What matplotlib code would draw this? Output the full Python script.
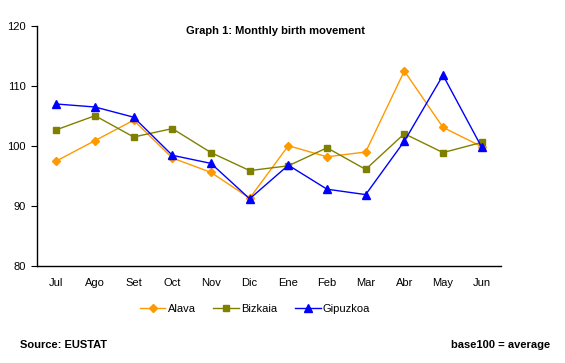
import matplotlib
matplotlib.use("Agg")
import matplotlib.pyplot as plt

months = ["Jul", "Ago", "Set", "Oct", "Nov", "Dic", "Ene", "Feb", "Mar", "Abr", "May", "Jun"]
alava = [97.5, 100.9, 104.3, 98.0, 95.6, 91.3, 100.05, 98.2, 99.0, 112.5, 103.1, 99.9]
bizkaia = [102.7, 105.05, 101.5, 102.9, 98.9, 95.9, 96.7, 99.7, 96.1, 102.05, 98.9, 100.6]
gipuzkoa = [107.0, 106.5, 104.8, 98.45, 97.1, 91.2, 96.8, 92.8, 91.9, 100.8, 111.8, 99.8]
yticks = [80, 90, 100, 110, 120]

plt.rcParams['font.family'] = ['Liberation Sans', 'DejaVu Sans']

fig = plt.figure(figsize=(5.65, 3.63), dpi=100)
ax = fig.add_axes([37/565, 1-266/363, (501-37)/565, (266-26)/363])

x = list(range(len(months)))
ax.plot(x, alava, color="#FF9900", marker="D", markersize=3.6, lw=1, label="Alava")
ax.plot(x, bizkaia, color="#808000", marker="s", markersize=4.6, lw=1, label="Bizkaia")
ax.plot(x, gipuzkoa, color="#0000FF", marker="^", markersize=5.2, lw=1, label="Gipuzkoa")

ax.set_xlim(-0.5, len(months)-0.5)
ax.set_ylim(80, 120)
ax.set_yticks(yticks)
ax.set_xticks(x)
ax.set_xticklabels(months)
ax.tick_params(axis='x', length=0, pad=9, labelsize=8)
ax.tick_params(axis='y', length=4, width=0.8, pad=4, labelsize=8)
for s in ["top", "right"]:
    ax.spines[s].set_visible(False)
for s in ["left", "bottom"]:
    ax.spines[s].set_linewidth(1)
    ax.spines[s].set_color("black")

fig.text(275/565, 1-31/363, "Graph 1: Monthly birth movement", ha="center", va="center",
         fontsize=8, fontweight="bold")

leg = fig.legend(loc="center", bbox_to_anchor=(255/565, 1-309/363), ncol=3, frameon=False,
                 fontsize=8, handlelength=2.3, columnspacing=1.6, handletextpad=0.2)

fig.text(20/565, 1-345/363, "Source: EUSTAT", ha="left", va="center", fontsize=8, fontweight="bold")
fig.text(550/565, 1-345/363, "base100 = average", ha="right", va="center", fontsize=8, fontweight="bold")

fig.savefig("out.png", dpi=100)
